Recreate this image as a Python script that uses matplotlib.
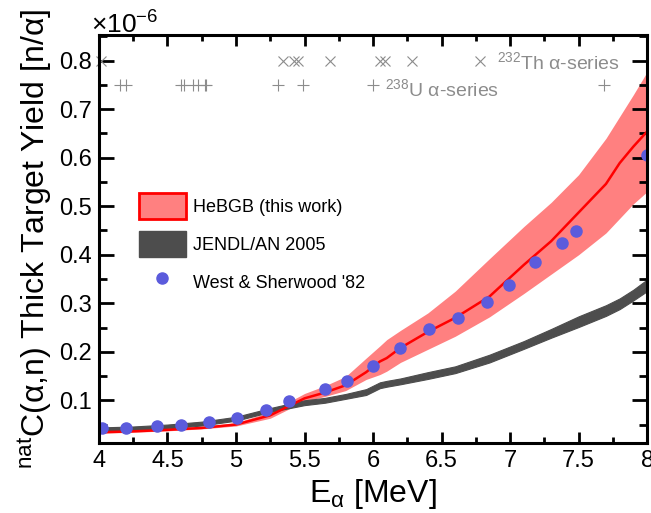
import matplotlib
matplotlib.use("Agg")
import matplotlib.pyplot as plt
from matplotlib.patches import Patch
from matplotlib.lines import Line2D
from matplotlib.ticker import MultipleLocator, FuncFormatter

plt.rcParams['font.family'] = ['Liberation Sans', 'DejaVu Sans']
plt.rcParams['mathtext.fontset'] = 'custom'
plt.rcParams['mathtext.rm'] = 'Liberation Sans'
plt.rcParams['mathtext.it'] = 'Liberation Sans:italic'

# alpha energy [MeV] grid for the calculations
energy = [4.0, 4.25, 4.5, 4.75, 5.0, 5.25, 5.5, 5.65, 5.8, 5.95, 6.05, 6.1,
          6.2, 6.4, 6.6, 6.85, 7.1, 7.3, 7.5, 7.7, 7.8, 7.9, 8.0]

# HeBGB (this work), yield in units of 1e-6 n/alpha
hebgb = [0.034, 0.036, 0.039, 0.043, 0.050, 0.069, 0.104, 0.116, 0.131, 0.158, 0.180, 0.187,
         0.208, 0.241, 0.270, 0.314, 0.379, 0.428, 0.487, 0.546, 0.589, 0.623, 0.654]
hebgb_hi = [0.036, 0.038, 0.041, 0.046, 0.054, 0.076, 0.114, 0.130, 0.149, 0.187, 0.212, 0.225,
            0.244, 0.280, 0.325, 0.392, 0.458, 0.508, 0.565, 0.640, 0.685, 0.730, 0.777]
hebgb_lo = [0.032, 0.034, 0.037, 0.041, 0.047, 0.063, 0.098, 0.108, 0.120, 0.143, 0.153, 0.160,
            0.178, 0.205, 0.232, 0.272, 0.320, 0.360, 0.400, 0.445, 0.475, 0.505, 0.530]

# JENDL/AN 2005
jendl_hi = [0.044, 0.046, 0.050, 0.056, 0.066, 0.084, 0.100, 0.105, 0.113, 0.123, 0.137, 0.140,
            0.145, 0.158, 0.170, 0.194, 0.222, 0.247, 0.273, 0.296, 0.310, 0.328, 0.349]
jendl_lo = [0.036, 0.038, 0.042, 0.048, 0.058, 0.076, 0.090, 0.095, 0.103, 0.111, 0.125, 0.128,
            0.133, 0.144, 0.156, 0.178, 0.206, 0.229, 0.251, 0.274, 0.288, 0.306, 0.325]

# West & Sherwood '82
ws_energy = [4.02, 4.20, 4.42, 4.60, 4.80, 5.01, 5.22, 5.39, 5.65, 5.81, 6.00, 6.20,
             6.41, 6.62, 6.83, 6.99, 7.18, 7.38, 7.48, 8.0]
ws_yield = [0.042, 0.043, 0.048, 0.050, 0.055, 0.064, 0.081, 0.099, 0.123, 0.139, 0.171, 0.208,
            0.246, 0.270, 0.303, 0.338, 0.386, 0.425, 0.448, 0.606]

# alpha lines of the decay chains
th232_lines = [4.012, 5.340, 5.423, 5.449, 5.685, 6.051, 6.090, 6.288, 6.778]
u238_lines = [4.151, 4.198, 4.601, 4.621, 4.687, 4.722, 4.775, 4.784, 5.304, 5.490, 6.002, 7.687]

labels = ["HeBGB (this work)", "JENDL/AN 2005", "West & Sherwood '82"]

pink = "#ff8080"
grey = "#4d4d4d"
blue = "#5b5bdc"
light = "#8c8c8c"

fig = plt.figure(figsize=(6.51, 5.13), dpi=100)
ax = fig.add_axes([0.152, 0.1365, 0.842, 0.7953])

ax.fill_between(energy, hebgb_lo, hebgb_hi, color=pink, lw=0)
ax.plot(energy, hebgb, color="red", lw=1.8)
ax.fill_between(energy, jendl_lo, jendl_hi, facecolor=grey, edgecolor=grey, lw=0.8)
ax.plot(ws_energy, ws_yield, "o", color=blue, ms=8)

ax.plot(th232_lines, [0.8] * len(th232_lines), "x", color=light, ms=7, mew=0.8, clip_on=False)
ax.plot(u238_lines, [0.75] * len(u238_lines), "+", color=light, ms=8, mew=0.8, clip_on=False)
ax.text(6.905, 0.797, r"$^{232}$Th α-series", color=light, fontsize=14, va="center")
ax.text(6.09, 0.742, r"$^{238}$U α-series", color=light, fontsize=14, va="center")

handles = [Patch(facecolor=pink, edgecolor="red", lw=2),
           Patch(facecolor=grey, edgecolor=grey),
           Line2D([], [], marker="o", ls="none", color=blue, ms=8)]
ax.legend(handles, labels, loc="upper left", bbox_to_anchor=(0.073, 0.613), frameon=False,
          fontsize=13, handlelength=2.6, handleheight=1.83, labelspacing=0.67,
          handletextpad=0.4, borderpad=0, borderaxespad=0)

ax.set_xlim(4, 8)
ax.set_ylim(0.012, 0.853)
ax.xaxis.set_major_locator(MultipleLocator(0.5))
ax.xaxis.set_minor_locator(MultipleLocator(0.25))
ax.yaxis.set_major_locator(MultipleLocator(0.1))
ax.yaxis.set_minor_locator(MultipleLocator(0.05))
ax.xaxis.set_major_formatter(FuncFormatter(lambda v, p: "%g" % v))
ax.yaxis.set_major_formatter(FuncFormatter(lambda v, p: "%g" % round(v, 2)))

ax.tick_params(which="both", direction="in", top=True, right=True, width=2)
ax.tick_params(axis="x", which="major", length=8, labelsize=17, pad=5)
ax.tick_params(axis="x", which="minor", length=4)
ax.tick_params(axis="y", which="major", length=11, labelsize=17, pad=5)
ax.tick_params(axis="y", which="minor", length=5.5)
for s in ax.spines.values():
    s.set_linewidth(2.2)

ax.text(-0.014, 0.99, "×10$^{-6}$", transform=ax.transAxes, fontsize=19, va="bottom")
ax.set_xlabel(r"E$_{\mathrm{α}}$ [MeV]", fontsize=23)
ax.set_ylabel(r"$^{\mathrm{nat}}$C(α,n) Thick Target Yield [n/α]", fontsize=23)

fig.savefig("out.png", dpi=100)
